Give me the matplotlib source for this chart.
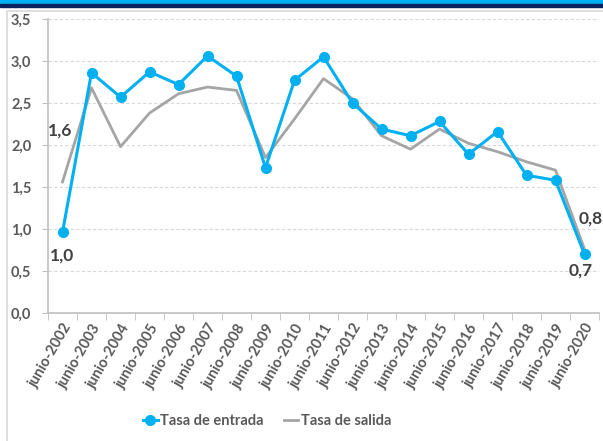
import matplotlib.pyplot as plt
from matplotlib.lines import Line2D
from matplotlib.patches import Rectangle

# data
years = ['junio-2002', 'junio-2003', 'junio-2004', 'junio-2005', 'junio-2006',
         'junio-2007', 'junio-2008', 'junio-2009', 'junio-2010', 'junio-2011',
         'junio-2012', 'junio-2013', 'junio-2014', 'junio-2015', 'junio-2016',
         'junio-2017', 'junio-2018', 'junio-2019', 'junio-2020']
tasa_entrada = [0.96, 2.86, 2.57, 2.87, 2.72, 3.06, 2.82, 1.73, 2.77, 3.05,
                2.50, 2.19, 2.11, 2.28, 1.89, 2.16, 1.64, 1.58, 0.70]
tasa_salida = [1.56, 2.68, 1.98, 2.38, 2.61, 2.69, 2.65, 1.85, 2.31, 2.79,
               2.55, 2.11, 1.95, 2.19, 2.02, 1.92, 1.80, 1.70, 0.76]
y_ticks = [0.0, 0.5, 1.0, 1.5, 2.0, 2.5, 3.0, 3.5]

plt.rcParams['font.family'] = ['Lato', 'DejaVu Sans']
text_col = '#595959'
blue = '#00B0F0'
grey = '#A5A5A5'

fig = plt.figure(figsize=(6.03, 4.41), dpi=100)
W, H = 603, 441

# top band and frame
fig.patches.append(Rectangle((0, 1 - 4 / H), 1, 4 / H, transform=fig.transFigure,
                             color=blue, zorder=0))
fig.patches.append(Rectangle((0, 1 - 6.5 / H), 1, 2.5 / H, transform=fig.transFigure,
                             color='#0B2160', zorder=0))
fig.lines.append(Line2D([7 / W, 7 / W, 1], [0, 1 - 11 / H, 1 - 11 / H],
                        transform=fig.transFigure, color='#D9D9D9', lw=1.2))

ax = fig.add_axes([48 / W, 1 - 313 / H, 551 / W, 294 / H])
x = list(range(len(years)))

ax.plot(x, tasa_salida, color=grey, lw=2.0, zorder=3)
ax.plot(x, tasa_entrada, color=blue, lw=2.2, marker='o', ms=7, zorder=4)

ax.set_xlim(-0.5, len(years) - 0.5)
ax.set_ylim(0, 3.5)
ax.set_yticks(y_ticks)
ax.set_yticklabels([f'{v:.1f}'.replace('.', ',') for v in y_ticks])
ax.set_xticks(x)
ax.set_xticklabels(years, rotation=60, ha='right', rotation_mode='anchor')
ax.set_xticks([i - 0.5 for i in range(len(years) + 1)], minor=True)
ax.tick_params(axis='x', which='major', length=0, pad=6)
ax.tick_params(axis='x', which='minor', length=5, color='#BFBFBF')
ax.tick_params(axis='y', length=4, color='#BFBFBF', pad=8)
for lab in ax.get_xticklabels() + ax.get_yticklabels():
    lab.set_color(text_col)
    lab.set_fontsize(10.5)
    lab.set_fontweight('bold')

for s in ['top', 'right']:
    ax.spines[s].set_visible(False)
ax.spines['left'].set_color('#BFBFBF')
ax.spines['bottom'].set_color('#BFBFBF')
ax.spines['left'].set_linewidth(1.2)
ax.spines['bottom'].set_linewidth(1.2)
for v in y_ticks[1:]:
    ax.axhline(v, color='#D9D9D9', lw=0.8, ls=(0, (3, 2)), zorder=1)

# point labels
lab_kw = dict(fontsize=12.5, fontweight='bold', color='#404040',
              textcoords='offset points', annotation_clip=False)
ax.annotate('1,6', (0, tasa_salida[0]), xytext=(-2, 37),
            ha='center', va='center', **lab_kw)
ax.annotate('1,0', (0, tasa_entrada[0]), xytext=(0, -16.5),
            ha='center', va='center', **lab_kw)
ax.annotate('0,8', (len(years) - 1, tasa_salida[-1]), xytext=(-4, 22),
            ha='left', va='center', **lab_kw)
ax.annotate('0,7', (len(years) - 1, tasa_entrada[-1]), xytext=(-3, -12),
            ha='center', va='center', **lab_kw)

handles = [Line2D([], [], color=blue, lw=2.2, marker='o', ms=7),
           Line2D([], [], color=grey, lw=2.0)]
leg = fig.legend(handles, ['Tasa de entrada', 'Tasa de salida'], loc='center',
                 bbox_to_anchor=(267 / W, 1 - 421 / H), ncol=2, frameon=False,
                 handlelength=1.0, handletextpad=0.15, columnspacing=1.4,
                 prop={'size': 10.5, 'weight': 'bold'})
for t in leg.get_texts():
    t.set_color(text_col)

fig.savefig('out.png', dpi=100)
